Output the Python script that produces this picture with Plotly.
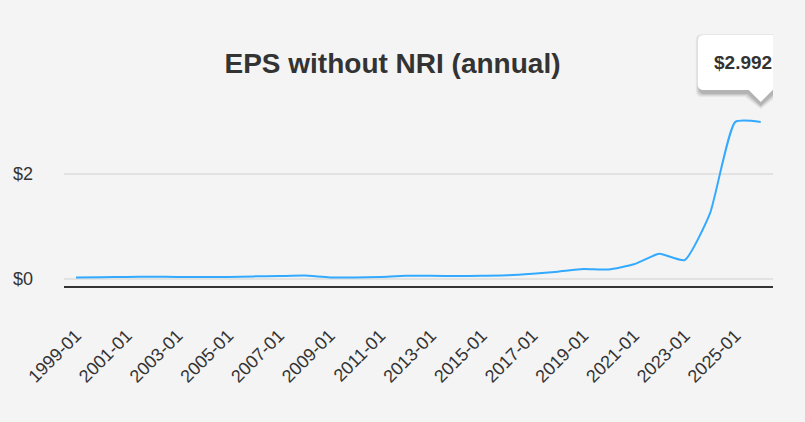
import plotly.graph_objects as go

# ---- data ----
periods = ["1999-01", "2000-01", "2001-01", "2002-01", "2003-01", "2004-01", "2005-01",
           "2006-01", "2007-01", "2008-01", "2009-01", "2010-01", "2011-01", "2012-01",
           "2013-01", "2014-01", "2015-01", "2016-01", "2017-01", "2018-01", "2019-01",
           "2020-01", "2021-01", "2022-01", "2023-01", "2024-01", "2025-01", "2026-01"]
eps = [0.03, 0.035, 0.04, 0.045, 0.04, 0.04, 0.04, 0.05, 0.055, 0.065, 0.03, 0.03,
       0.04, 0.06, 0.06, 0.055, 0.06, 0.07, 0.10, 0.14, 0.19, 0.18, 0.28, 0.48,
       0.36, 1.25, 2.992, 2.992]
x_ticks = periods[::2][:14]
y_tickvals = [0, 2]
y_ticktext = ["$0", "$2"]
title_text = "EPS without NRI (annual)"
tooltip_text = "$2.992"

BG = "#f4f4f4"
LINE = "#33aaff"
TXT = "#333333"
FONT = "Arial, Liberation Sans"

fig = go.Figure()
fig.add_trace(go.Scatter(x=periods, y=eps, mode="lines",
                         line=dict(color=LINE, width=2, shape="spline", smoothing=0.5),
                         hoverinfo="skip", showlegend=False))

# tooltip box with pointer (pixel offsets relative to last point)
def callout(l, r, b, t, rad, tip, half):
    return (f"M{l+rad},{t} L{r-rad},{t} Q{r},{t} {r},{t-rad} L{r},{b+rad} Q{r},{b} {r-rad},{b} "
            f"L{half},{b} L0,{tip} L{-half},{b} L{l+rad},{b} Q{l},{b} {l},{b+rad} "
            f"L{l},{t-rad} Q{l},{t} {l+rad},{t} Z")

last_x = len(periods) - 1
last_y = eps[-1]
shapes = []
for grow, op in [(4, 0.05), (3, 0.06), (2, 0.08), (1, 0.10)]:
    shapes.append(dict(type="path", xref="x", yref="y", xsizemode="pixel", ysizemode="pixel",
                       xanchor=last_x, yanchor=last_y,
                       path=callout(-63 + 2 - grow, 28 + 2 + grow, 32 - 3 - grow, 87 - 3 + grow, 6,
                                    20 - 3 - grow, 12 + grow),
                       fillcolor=f"rgba(0,0,0,{op})", line=dict(width=0), layer="above"))
shapes.append(dict(type="path", xref="x", yref="y", xsizemode="pixel", ysizemode="pixel",
                   xanchor=last_x, yanchor=last_y,
                   path=callout(-63, 28, 32, 87, 6, 20, 12),
                   fillcolor="white", line=dict(width=0), layer="above"))

fig.add_annotation(x=last_x, y=last_y, text=f"<b>{tooltip_text}</b>", showarrow=False,
                   xanchor="center", yanchor="middle", xshift=-17.5, yshift=59.5,
                   font=dict(family=FONT, size=19, color=TXT))

fig.update_layout(
    width=805, height=422,
    margin=dict(l=64, r=32, t=20, b=136),
    paper_bgcolor=BG, plot_bgcolor=BG,
    title=dict(text=f"<b>{title_text}</b>", xref="container", yref="container",
               x=392.5 / 805, y=1 - 63 / 422, xanchor="center", yanchor="middle",
               font=dict(family=FONT, size=28, color=TXT)),
    shapes=shapes,
    xaxis=dict(type="category", range=[-0.473, 27.484], tickvals=x_ticks, ticktext=x_ticks,
               tickangle=-45, showgrid=False, zeroline=False,
               showline=True, linecolor=TXT, linewidth=2,
               ticks="", ticklabelstandoff=30,
               tickfont=dict(family=FONT, size=18, color=TXT)),
    yaxis=dict(range=[-0.1333, 4.933], tickvals=y_tickvals, ticktext=y_ticktext,
               showgrid=True, gridcolor="#e2e2e2", gridwidth=1.5, zeroline=False,
               showline=False, ticks="", ticklabelstandoff=30,
               tickfont=dict(family=FONT, size=18, color=TXT)),
)

fig.write_html("out.html")
